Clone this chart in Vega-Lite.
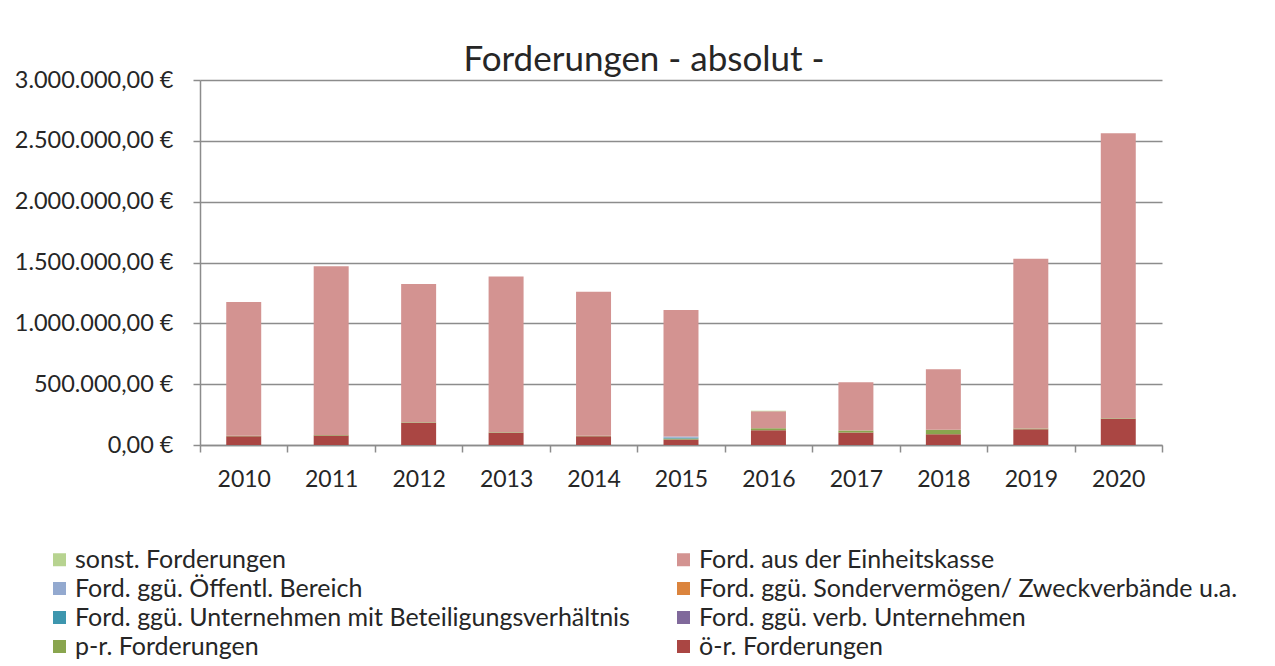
{
  "$schema": "https://vega.github.io/schema/vega-lite/v6.json",
  "autosize": {"type": "none"},
  "width": 962,
  "height": 365,
  "padding": {"left": 200, "top": 80, "right": 113, "bottom": 221},
  "background": "white",
  "config": {
    "font": "Lato",
    "view": {"stroke": null},
    "locale": {"number": {"decimal": ",", "thousands": ".", "grouping": [3], "currency": ["", " €"]}}
  },
  "title": {
    "text": "Forderungen - absolut -",
    "fontSize": 35,
    "fontWeight": "normal",
    "color": "#262626",
    "anchor": "middle",
    "frame": "group",
    "dx": -37,
    "dy": 22,
    "offset": 12
  },
  "data": {
    "values": [
      {"year": "2010", "series": "ö-r. Forderungen", "stack": 1, "value": 72000},
      {"year": "2010", "series": "p-r. Forderungen", "stack": 2, "value": 4000},
      {"year": "2010", "series": "Ford. aus der Einheitskasse", "stack": 7, "value": 1099000},
      {"year": "2011", "series": "ö-r. Forderungen", "stack": 1, "value": 78000},
      {"year": "2011", "series": "p-r. Forderungen", "stack": 2, "value": 5000},
      {"year": "2011", "series": "Ford. aus der Einheitskasse", "stack": 7, "value": 1386000},
      {"year": "2012", "series": "ö-r. Forderungen", "stack": 1, "value": 183000},
      {"year": "2012", "series": "p-r. Forderungen", "stack": 2, "value": 4000},
      {"year": "2012", "series": "Ford. aus der Einheitskasse", "stack": 7, "value": 1137000},
      {"year": "2013", "series": "ö-r. Forderungen", "stack": 1, "value": 100000},
      {"year": "2013", "series": "p-r. Forderungen", "stack": 2, "value": 4000},
      {"year": "2013", "series": "Ford. aus der Einheitskasse", "stack": 7, "value": 1280000},
      {"year": "2014", "series": "ö-r. Forderungen", "stack": 1, "value": 72000},
      {"year": "2014", "series": "p-r. Forderungen", "stack": 2, "value": 4000},
      {"year": "2014", "series": "Ford. aus der Einheitskasse", "stack": 7, "value": 1184000},
      {"year": "2015", "series": "ö-r. Forderungen", "stack": 1, "value": 45000},
      {"year": "2015", "series": "p-r. Forderungen", "stack": 2, "value": 8000},
      {"year": "2015", "series": "Ford. ggü. Unternehmen mit Beteiligungsverhältnis", "stack": 4, "value": 6000},
      {"year": "2015", "series": "Ford. ggü. Öffentl. Bereich", "stack": 6, "value": 10000},
      {"year": "2015", "series": "Ford. aus der Einheitskasse", "stack": 7, "value": 1041000},
      {"year": "2016", "series": "ö-r. Forderungen", "stack": 1, "value": 122000},
      {"year": "2016", "series": "p-r. Forderungen", "stack": 2, "value": 16000},
      {"year": "2016", "series": "Ford. aus der Einheitskasse", "stack": 7, "value": 140000},
      {"year": "2016", "series": "sonst. Forderungen", "stack": 8, "value": 4000},
      {"year": "2017", "series": "ö-r. Forderungen", "stack": 1, "value": 103000},
      {"year": "2017", "series": "p-r. Forderungen", "stack": 2, "value": 16000},
      {"year": "2017", "series": "Ford. aus der Einheitskasse", "stack": 7, "value": 396000},
      {"year": "2018", "series": "ö-r. Forderungen", "stack": 1, "value": 89000},
      {"year": "2018", "series": "p-r. Forderungen", "stack": 2, "value": 36000},
      {"year": "2018", "series": "Ford. aus der Einheitskasse", "stack": 7, "value": 497000},
      {"year": "2019", "series": "ö-r. Forderungen", "stack": 1, "value": 130000},
      {"year": "2019", "series": "p-r. Forderungen", "stack": 2, "value": 5000},
      {"year": "2019", "series": "Ford. aus der Einheitskasse", "stack": 7, "value": 1395000},
      {"year": "2020", "series": "ö-r. Forderungen", "stack": 1, "value": 216000},
      {"year": "2020", "series": "p-r. Forderungen", "stack": 2, "value": 4000},
      {"year": "2020", "series": "Ford. aus der Einheitskasse", "stack": 7, "value": 2342000}
    ]
  },
  "mark": {"type": "bar", "width": {"band": 0.4}},
  "encoding": {
    "x": {
      "field": "year",
      "type": "nominal",
      "scale": {"paddingInner": 0, "paddingOuter": 0},
      "axis": {
        "title": null,
        "labelAngle": 0,
        "tickBand": "extent",
        "tickSize": 7,
        "tickColor": "#8c8c8c",
        "tickWidth": 1.5,
        "domainColor": "#8c8c8c",
        "domainWidth": 1.5,
        "labelFontSize": 23,
        "labelColor": "#262626",
        "labelPadding": 16
      }
    },
    "y": {
      "field": "value",
      "type": "quantitative",
      "stack": "zero",
      "scale": {"domain": [0, 3000000], "nice": false},
      "axis": {
        "title": null,
        "values": [0, 500000, 1000000, 1500000, 2000000, 2500000, 3000000],
        "format": "$,.2f",
        "grid": true,
        "gridColor": "#8c8c8c",
        "gridWidth": 1.5,
        "tickSize": 7,
        "tickColor": "#8c8c8c",
        "tickWidth": 1.5,
        "domainColor": "#8c8c8c",
        "domainWidth": 1.5,
        "labelFontSize": 23.5,
        "labelColor": "#262626",
        "labelPadding": 20
      }
    },
    "color": {
      "field": "series",
      "type": "nominal",
      "scale": {
        "domain": [
          "sonst. Forderungen",
          "Ford. aus der Einheitskasse",
          "Ford. ggü. Öffentl. Bereich",
          "Ford. ggü. Sondervermögen/ Zweckverbände u.a.",
          "Ford. ggü. Unternehmen mit Beteiligungsverhältnis",
          "Ford. ggü. verb. Unternehmen",
          "p-r. Forderungen",
          "ö-r. Forderungen"
        ],
        "range": ["#b7d390", "#d39391", "#93a9cf", "#db843d", "#3d96ae", "#80699b", "#89a54e", "#aa4643"]
      },
      "legend": {
        "title": null,
        "orient": "none",
        "legendX": -153,
        "legendY": 467,
        "direction": "horizontal",
        "columns": 2,
        "columnPadding": 41,
        "rowPadding": 3,
        "symbolType": "square",
        "symbolSize": 169,
        "symbolStrokeWidth": 0,
        "labelFontSize": 25,
        "labelColor": "#262626",
        "labelOffset": 3,
        "labelLimit": 0,
        "padding": 0
      }
    },
    "order": {"field": "stack", "type": "quantitative", "sort": "ascending"}
  }
}
